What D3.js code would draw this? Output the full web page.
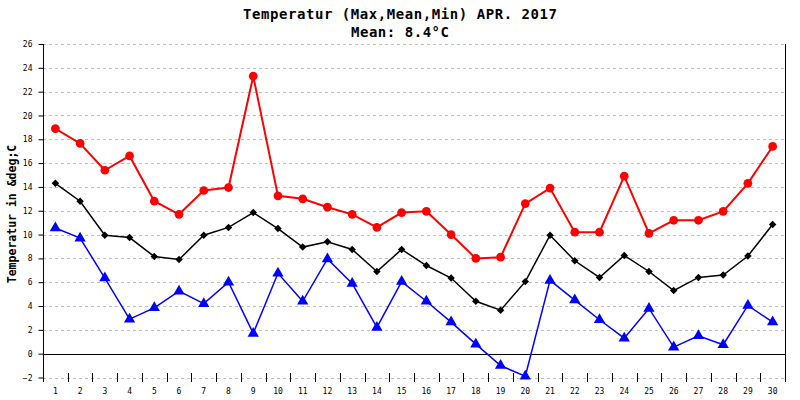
<!DOCTYPE html>
<html>
<head>
<meta charset="utf-8">
<script src="https://cdn.jsdelivr.net/npm/d3@7"></script>
<style>
body { margin: 0; background: #fff; }
text { font-family: "DejaVu Sans Mono", "Liberation Mono", monospace; }
</style>
</head>
<body>
<svg width="800" height="400"></svg>
<script>
var days = d3.range(1, 31).map(String);
var maxTemp  = [18.9,17.65,15.4,16.6,12.8,11.7,13.7,13.95,23.3,13.25,13.0,12.3,11.7,10.6,11.85,11.95,10.0,8.0,8.1,12.6,13.9,10.2,10.2,14.9,10.1,11.2,11.2,11.95,14.3,17.4];
var meanTemp = [14.3,12.8,9.95,9.75,8.15,7.9,9.95,10.6,11.85,10.5,8.95,9.4,8.75,6.9,8.75,7.4,6.35,4.4,3.65,6.05,9.95,7.8,6.4,8.25,6.9,5.3,6.4,6.6,8.2,10.85];
var minTemp  = [10.55,9.7,6.35,2.9,3.85,5.25,4.2,6.0,1.7,6.75,4.4,7.95,5.9,2.2,6.05,4.4,2.65,0.8,-1.0,-1.9,6.15,4.5,2.85,1.3,3.8,0.55,1.5,0.75,4.05,2.65];
var yTicks = d3.range(-2, 27, 2);

var svg = d3.select('svg');
var plotLeft = 43, plotRight = 785, plotTop = 44, plotBottom = 377.5;

var x = d3.scaleBand().domain(days).range([plotLeft, plotRight]);
var y = d3.scaleLinear().domain([-2, 26]).range([plotBottom, plotTop]);

// grid
svg.selectAll('line.grid')
   .data(yTicks)
   .enter()
   .append('line')
   .attr('x1', plotLeft).attr('x2', plotRight)
   .attr('y1', function(d){ return Math.round(y(d)) + 0.5; })
   .attr('y2', function(d){ return Math.round(y(d)) + 0.5; })
   .attr('stroke', '#c0c0c0')
   .attr('stroke-dasharray', '3,3');

// zero line
svg.append('line')
   .attr('x1', plotLeft).attr('x2', plotRight)
   .attr('y1', Math.round(y(0)) + 0.5).attr('y2', Math.round(y(0)) + 0.5)
   .attr('stroke', '#000');

// y axis
var yAxis = d3.axisLeft(y).tickValues(yTicks).tickSize(5).tickPadding(6);
var gy = svg.append('g').attr('transform', 'translate(' + (plotLeft + 0.5) + ',0)').call(yAxis);
gy.select('.domain').remove();
gy.selectAll('text').attr('font-size', 8).attr('font-family', '"DejaVu Sans Mono", monospace');
svg.append('line').attr('x1', plotLeft + 0.5).attr('x2', plotLeft + 0.5).attr('y1', plotTop).attr('y2', 382).attr('stroke', '#000');
svg.append('line').attr('x1', plotRight + 0.5).attr('x2', plotRight + 0.5).attr('y1', plotTop).attr('y2', 382).attr('stroke', '#000');

// x ticks between days
svg.selectAll('line.xtick')
   .data(days.slice(1))
   .enter()
   .append('line')
   .attr('x1', function(d){ return Math.round(x(d)) + 0.5; })
   .attr('x2', function(d){ return Math.round(x(d)) + 0.5; })
   .attr('y1', 373).attr('y2', 382)
   .attr('stroke', '#000');
svg.selectAll('text.xlab')
   .data(days)
   .enter()
   .append('text')
   .attr('x', function(d){ return x(d) + x.bandwidth() / 2; })
   .attr('y', 394)
   .attr('text-anchor', 'middle')
   .attr('font-size', 8)
   .text(function(d){ return d; });

function cx(d, i){ return x(days[i]) + x.bandwidth() / 2; }

var series = [
  { data: maxTemp,  color: '#ff0000', width: 2,   shape: d3.symbolCircle,   size: 60, rot: 0 },
  { data: meanTemp, color: '#000000', width: 1.5, shape: d3.symbolSquare,   size: 28, rot: 45 },
  { data: minTemp,  color: '#0000ff', width: 1.5, shape: d3.symbolTriangle, size: 55, rot: 0 }
];

series.forEach(function(s){
  var line = d3.line().x(cx).y(function(d){ return y(d); });
  svg.append('path')
     .attr('d', line(s.data))
     .attr('fill', 'none')
     .attr('stroke', s.color)
     .attr('stroke-width', s.width);
  svg.selectAll(null)
     .data(s.data)
     .enter()
     .append('path')
     .attr('d', d3.symbol().type(s.shape).size(s.size))
     .attr('transform', function(d, i){ return 'translate(' + cx(d, i) + ',' + y(d) + ') rotate(' + s.rot + ')'; })
     .attr('fill', s.color);
});

// titles
svg.append('text').attr('x', 400).attr('y', 19).attr('text-anchor', 'middle')
   .attr('font-size', 14).attr('font-weight', 'bold')
   .attr('textLength', 314).attr('lengthAdjust', 'spacing')
   .text('Temperatur (Max,Mean,Min) APR. 2017');
svg.append('text').attr('x', 400).attr('y', 37).attr('text-anchor', 'middle')
   .attr('font-size', 14).attr('font-weight', 'bold')
   .attr('textLength', 98).attr('lengthAdjust', 'spacing')
   .text('Mean: 8.4°C');
svg.append('text')
   .attr('transform', 'translate(16,214) rotate(-90)')
   .attr('text-anchor', 'middle')
   .attr('font-size', 11.5).attr('font-weight', 'bold')
   .text('Temperatur in &deg;C');
</script>
</body>
</html>
